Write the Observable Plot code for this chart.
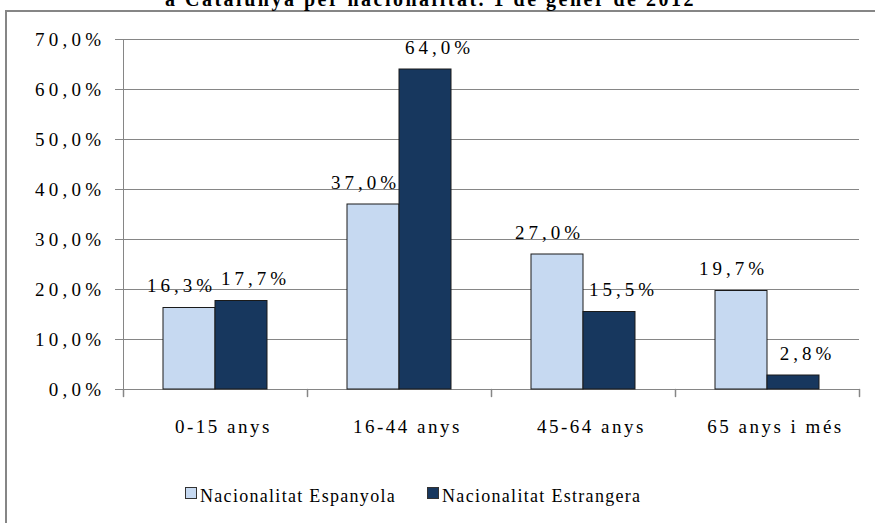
<!DOCTYPE html>
<html>
<head>
<meta charset="utf-8">
<script src="https://cdn.jsdelivr.net/npm/d3@7"></script>
<script src="https://cdn.jsdelivr.net/npm/@observablehq/plot@0.6"></script>
<style>
  body { margin: 0; background: #fff; }
  #wrap { position: relative; width: 875px; height: 523px; overflow: hidden; background: #fff;
          font-family: "Liberation Serif", "Times New Roman", serif; color: #000; }
  #border { position: absolute; left: 5px; top: 10px; width: 900px; height: 600px;
            border: 2px solid #868686; box-sizing: border-box; }
  #title { position: absolute; left: 165px; top: -11px; font-weight: bold; font-size: 20px;
           line-height: 20px; letter-spacing: 2.5px; white-space: nowrap; }
  #chart { position: absolute; left: 0; top: 0; }
  #legend { position: absolute; left: 185px; top: 487px; font-size: 18px; line-height: 18px;
            letter-spacing: 1.3px; white-space: nowrap; }
  #legend .item { display: inline-block; margin-right: 31px; }
  #legend .sw { display: inline-block; width: 12px; height: 12px; box-sizing: border-box;
                border: 1px solid #333; vertical-align: 3px; margin-right: 3px; }
  g[aria-label="y-axis tick label"] text { letter-spacing: 4.3px; }
  g[aria-label="fx-axis tick label"] text { letter-spacing: 2.5px; }
  g[aria-label="value label"] text, text[aria-label="value label"], g[aria-label="text"] text { letter-spacing: 4px; }
</style>
</head>
<body>
<div id="wrap">
  <div id="border"></div>
  <div id="title"></div>
  <div id="chart"></div>
  <div id="legend"></div>
</div>
<script>
const title = "a Catalunya per nacionalitat. 1 de gener de 2012";
const categories = ["0-15 anys", "16-44 anys", "45-64 anys", "65 anys i més"];
const series = ["Nacionalitat Espanyola", "Nacionalitat Estrangera"];
const espanyola = [16.3, 37.0, 27.0, 19.7];
const estrangera = [17.7, 64.0, 15.5, 2.8];
const yTicks = [0, 10, 20, 30, 40, 50, 60, 70];
const colors = ["#c6d9f1", "#17375e"];

const grey = "#868686";
const rows = categories.flatMap((c, i) => [
  {cat: c, s: series[0], v: espanyola[i]},
  {cat: c, s: series[1], v: estrangera[i]}
]);
const fmt = v => v.toFixed(1).replace(".", ",") + "%";
const tickShape = {draw(ctx, l) { ctx.moveTo(0, 0); ctx.lineTo(0, -l); }};

document.getElementById("title").textContent = title;

const chart = Plot.plot({
  width: 875,
  height: 440,
  marginLeft: 122,
  marginRight: 16,
  marginTop: 39,
  marginBottom: 51,
  style: {fontFamily: "'Liberation Serif', 'Times New Roman', serif", fontSize: "19px", color: "#000", background: "transparent"},
  fx: {domain: categories, padding: 0},
  x: {domain: series, paddingInner: 0, paddingOuter: 0.757, axis: null},
  y: {domain: [0, 70]},
  color: {domain: series, range: colors},
  marks: [
    Plot.ruleY(yTicks, {stroke: grey, strokeWidth: 1}),
    Plot.frame({anchor: "left", facet: "super", stroke: grey}),
    Plot.vector(categories, {fx: d => d, frameAnchor: "bottom-left", length: 7, rotate: 180, anchor: "start", shape: tickShape, stroke: grey}),
    Plot.vector(categories.slice(-1), {fx: d => d, frameAnchor: "bottom-right", length: 7, rotate: 180, anchor: "start", shape: tickShape, stroke: grey}),
    Plot.barY(rows, {fx: "cat", x: "s", y: "v", fill: "s", stroke: "#1a1a1a", strokeWidth: 1}),
    Plot.text(rows.filter(d => d.s === series[0]), {fx: "cat", x: "s", y: "v", text: d => fmt(d.v), fontSize: 19, dy: -22, dx: -8, fill: "#000"}),
    Plot.text(rows.filter(d => d.s === series[1]), {fx: "cat", x: "s", y: "v", text: d => fmt(d.v), fontSize: 19, dy: -22, dx: 14, fill: "#000"}),
    Plot.axisY({ticks: yTicks, tickFormat: fmt, tickSize: 8, tickPadding: 10, stroke: grey, fill: "#000", label: null}),
    Plot.axisFx({anchor: "bottom", tickSize: 0, tickPadding: 30, dx: 8, fill: "#000", label: null})
  ]
});
document.getElementById("chart").appendChild(chart);

const legend = document.getElementById("legend");
series.forEach((s, i) => {
  const item = document.createElement("span");
  item.className = "item";
  const sw = document.createElement("span");
  sw.className = "sw";
  sw.style.background = colors[i];
  item.appendChild(sw);
  item.appendChild(document.createTextNode(s));
  legend.appendChild(item);
});
</script>
</body>
</html>
